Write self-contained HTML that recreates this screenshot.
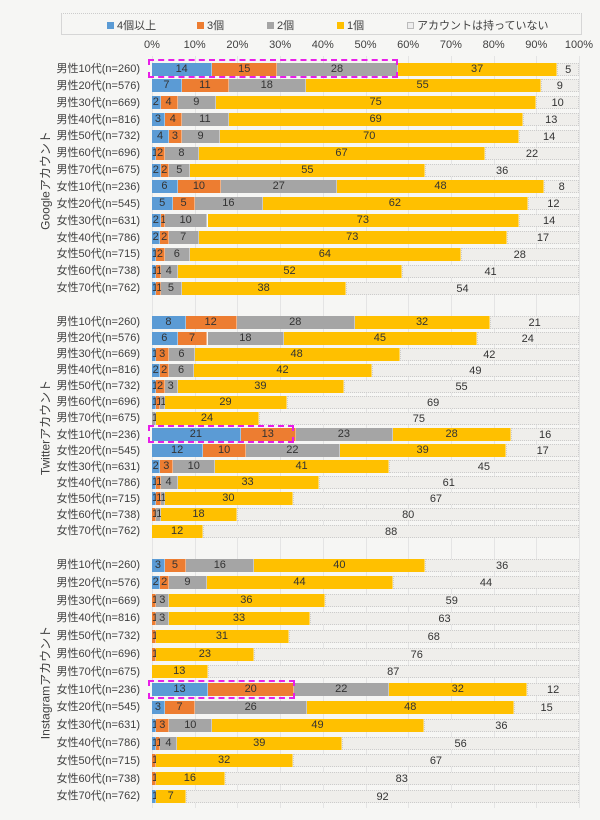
<!DOCTYPE html><html><head><meta charset="utf-8"><style>
body{margin:0;width:600px;height:820px;background:#f6f6f4;font-family:"Liberation Sans","Noto Sans CJK JP",sans-serif;position:relative;overflow:hidden;color:#404040}
.a{position:absolute}
.lbl{position:absolute;right:460px;font-size:11px;white-space:nowrap;line-height:14px}
.seg{position:absolute;height:13px;font-size:11px;line-height:13px;text-align:center;color:#333;white-space:nowrap;overflow:visible;box-sizing:border-box}
.tick{position:absolute;top:39px;font-size:11px;width:40px;text-align:center;margin-left:-20px}
.grid{position:absolute;top:56px;bottom:12px;width:0;border-left:1px solid #e4e4e4}
.sec{position:absolute;font-size:12px;transform:rotate(-90deg);transform-origin:center;white-space:nowrap;width:160px;text-align:center}
.box{position:absolute;border:2px dashed #e81ee8;box-sizing:border-box}
.lg{position:absolute;top:17px;font-size:11px;white-space:nowrap}
.lg i{display:inline-block;width:7px;height:7px;margin-right:3px;vertical-align:0}
</style></head><body>
<div class="a" style="left:61px;top:13px;width:519px;height:20px;border:1px solid #d6d6d6;border-top:1px dotted #ccc"></div>
<div class="lg" style="left:107px"><i style="background:#5b9bd5"></i>4個以上</div>
<div class="lg" style="left:197px"><i style="background:#ed7d31"></i>3個</div>
<div class="lg" style="left:267px"><i style="background:#a5a5a5"></i>2個</div>
<div class="lg" style="left:337px"><i style="background:#ffc000"></i>1個</div>
<div class="lg" style="left:407px"><i style="background:#eee;border:1px solid #bbb;width:5px;height:5px"></i>アカウントは持っていない</div>
<div id="c"></div>
<div class="sec" style="left:-35px;top:172px">Googleアカウント</div>
<div class="sec" style="left:-35px;top:419px">Twitterアカウント</div>
<div class="sec" style="left:-35px;top:674px">Instagramアカウント</div>
<div class="box" style="left:148px;top:59px;width:250px;height:19px"></div>
<div class="box" style="left:148px;top:425px;width:146px;height:18px"></div>
<div class="box" style="left:148px;top:680px;width:147px;height:19px"></div>
<script>
const L=["男性10代(n=260)","男性20代(n=576)","男性30代(n=669)","男性40代(n=816)","男性50代(n=732)","男性60代(n=696)","男性70代(n=675)","女性10代(n=236)","女性20代(n=545)","女性30代(n=631)","女性40代(n=786)","女性50代(n=715)","女性60代(n=738)","女性70代(n=762)"];
const S=[[69,16.85,[[14,15,28,37,5],[7,11,18,55,9],[2,4,9,75,10],[3,4,11,69,13],[4,3,9,70,14],[1,2,8,67,22],[2,2,5,55,36],[6,10,27,48,8],[5,5,16,62,12],[2,1,10,73,14],[2,2,7,73,17],[1,2,6,64,28],[1,1,4,52,41],[1,1,5,38,54]]],
[322,16.08,[[8,12,28,32,21],[6,7,18,45,24],[1,3,6,48,42],[2,2,6,42,49],[1,2,3,39,55],[1,1,1,29,69],[0,0,1,24,75],[21,13,23,28,16],[12,10,22,39,17],[2,3,10,41,45],[1,1,4,33,61],[1,1,1,30,67],[0,1,1,18,80],[0,0,0,12,88]]],
[565,17.8,[[3,5,16,40,36],[2,2,9,44,44],[0,1,3,36,59],[0,1,3,33,63],[0,1,0,31,68],[0,1,0,23,76],[0,0,0,13,87],[13,20,22,32,12],[3,7,26,48,15],[1,3,10,49,36],[1,1,4,39,56],[0,1,0,32,67],[0,1,0,16,83],[1,0,0,7,92]]]];
const C=["#5b9bd5","#ed7d31","#a5a5a5","#ffc000","#efeeeb"];
const x0=152,W=427;let h="";
for(let k=0;k<=10;k++){const x=x0+W*k/10;h+=`<div class="tick" style="left:${x}px">${k*10}%</div>`;h+=`<div class="grid" style="left:${x}px"></div>`;}
for(const [y0,p,D] of S){D.forEach((r,i)=>{const y=y0+i*p;h+=`<div class="lbl" style="top:${y-7}px">${L[i]}</div>`;
const t=r.reduce((a,b)=>a+b,0);let x=x0;r.forEach((v,j)=>{if(!v)return;const w=W*v/t;const b=j==4?"border:1px dotted #ccc;":"border-right:1px solid rgba(255,255,255,.4);";h+=`<div class="seg" style="left:${x}px;top:${y-6.5}px;width:${w}px;background:${C[j]};${b}">${v}</div>`;x+=w;});});}
document.getElementById("c").innerHTML=h;
</script></body></html>
